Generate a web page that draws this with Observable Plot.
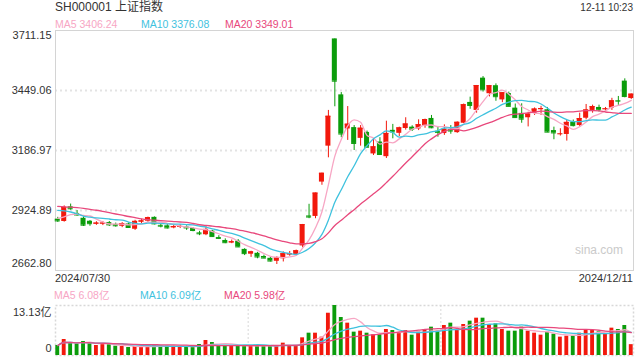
<!DOCTYPE html>
<html><head><meta charset="utf-8">
<script src="https://cdn.jsdelivr.net/npm/d3@7"></script>
<script src="https://cdn.jsdelivr.net/npm/@observablehq/plot@0.6"></script>
<style>
body{margin:0;background:#fff;}
#c{position:relative;width:640px;height:360px;font-family:"Liberation Sans",Arial,"Noto Sans CJK SC",sans-serif;color:#333;overflow:hidden;background:#fff}
.t{position:absolute;white-space:nowrap;line-height:14px}
#c svg{position:absolute;left:0}
</style></head><body><div id="c"></div>
<script>
// ---- data ----
const title = "SH000001 上证指数";
const stamp = "12-11 10:23";
const dates = ["2024/07/30","07-31","08-01","08-02","08-05","08-06","08-07","08-08","08-09","08-12","08-13","08-14","08-15","08-16","08-19","08-20","08-21","08-22","08-23","08-26","08-27","08-28","08-29","08-30","09-02","09-03","09-04","09-05","09-06","09-09","09-10","09-11","09-12","09-13","09-18","09-19","09-20","09-23","09-24","09-25","09-26","09-27","09-30","10-08","10-09","10-10","10-11","10-14","10-15","10-16","10-17","10-18","10-21","10-22","10-23","10-24","10-25","10-28","10-29","10-30","10-31","11-01","11-04","11-05","11-06","11-07","11-08","11-11","11-12","11-13","11-14","11-15","11-18","11-19","11-20","11-21","11-22","11-25","11-26","11-27","11-28","11-29","12-02","12-03","12-04","12-05","12-06","12-09","12-10","2024/12/11"];
const open  = [2887,2877,2941,2912,2891,2878,2865,2866,2872,2864,2856,2866,2843,2874,2878,2895,2860,2858,2849,2851,2853,2846,2827,2819,2835,2807,2794,2783,2791,2755,2734,2738,2724,2716,2703,2714,2730,2733,2770,2901,2899,3049,3206,3674.40,3430,3281,3287,3240,3266,3172,3224,3160,3275,3262,3283,3289,3281,3294,3327,3271,3261,3278,3265,3306,3397,3362,3503,3435,3470,3408,3436,3372,3349,3330,3349,3365,3365,3274,3258,3257,3311,3296,3328,3362,3375,3366,3372,3405,3490,3414];
const high  = [2895,2945,2953,2925,2897,2881,2876,2877,2877,2870,2872,2871,2882,2887,2896,2897,2866,2867,2861,2863,2858,2850,2834,2856,2838,2815,2801,2796,2798,2758,2747,2742,2730,2720,2723,2744,2746,2752,2864,2952,3001,3088,3362,3674.40,3440,3379,3296,3296,3272,3238,3243,3315,3301,3289,3330,3295,3321,3324,3340,3292,3299,3296,3312,3390,3420,3471,3510,3471,3478,3440,3442,3390,3391,3354,3373,3380,3375,3289,3282,3318,3320,3350,3388,3385,3385,3375,3415,3423,3500,3434];
const low   = [2873,2874,2926,2900,2855,2856,2860,2859,2855,2852,2850,2849,2838,2868,2873,2862,2849,2844,2845,2846,2838,2832,2815,2815,2808,2798,2780,2780,2763,2728,2720,2714,2714,2700,2689,2700,2725,2725,2762,2889,2889,3035,3155,3378,3243,3231,3187,3206,3199,3165,3165,3152,3238,3248,3276,3270,3274,3284,3282,3245,3253,3258,3262,3305,3367,3350,3442,3421,3402,3396,3378,3328,3306,3290,3340,3340,3265,3234,3250,3228,3290,3289,3321,3350,3355,3357,3362,3384,3417,3410];
const close = [2879.30,2938.75,2932.39,2905.34,2860.70,2867.28,2869.90,2869.83,2862.19,2858.20,2867.95,2850.65,2877.36,2879.43,2893.67,2866.66,2856.58,2848.77,2854.37,2855.52,2848.73,2837.43,2823.11,2842.21,2811.04,2802.98,2784.28,2788.22,2765.81,2736.49,2744.19,2721.80,2717.12,2704.09,2717.28,2736.02,2736.81,2748.92,2863.13,2896.31,3000.95,3087.53,3336.50,3489.78,3258.86,3301.93,3217.74,3284.32,3201.29,3202.95,3169.38,3261.56,3268.11,3285.87,3302.80,3280.26,3299.70,3322.20,3286.41,3266.24,3279.82,3272.01,3310.21,3386.99,3383.81,3470.66,3452.30,3470.07,3421.97,3439.28,3379.84,3330.73,3323.85,3346.01,3367.99,3370.40,3267.19,3263.76,3259.76,3309.78,3295.70,3326.46,3363.98,3378.81,3364.65,3368.86,3404.08,3402.53,3422.66,3433.07];
// closes of the 19 sessions before the first candle (feed the moving averages only)
const priorCloses = [2982.38,2957.57,2949.93,2922.45,2959.37,2939.36,2970.39,2971.30,2974.01,2976.30,2962.17,2977.13,2982.31,2964.22,2915.37,2901.95,2886.74,2890.90,2891.85];
// volume, 亿
const volume = [2.63,4.20,3.41,3.06,3.68,3.06,2.63,3.06,2.89,2.45,2.36,2.10,2.36,2.36,2.45,2.54,2.45,2.45,2.45,2.36,2.19,2.19,2.89,3.94,3.41,2.63,2.63,2.63,2.54,2.54,2.54,2.45,2.45,2.63,2.63,3.24,2.63,2.63,4.64,5.86,5.86,4.82,11.10,13.13,9.98,8.49,6.13,6.39,5.86,5.43,5.43,6.83,6.56,5.86,6.56,5.34,6.13,6.83,7.44,6.48,7.88,8.49,6.83,8.14,9.02,9.80,9.80,8.14,8.31,6.83,6.39,6.39,7.44,6.39,5.86,5.34,6.13,5.60,4.82,5.08,5.08,5.86,6.56,6.56,6.21,5.69,7.18,6.83,7.88,2.85];
const priceTicks = [3711.15,3449.06,3186.97,2924.89,2662.80];
const maPeriods = [5,10,20];
const maNames = ["MA5","MA10","MA20"];
const maColors = ["#f7a6c4","#3fc2de","#e8487c"];
const volLegend = ["6.08亿","6.09亿","5.98亿"];
const upColor = "#f2180c", downColor = "#0b9c0b";

// ---- derived ----
const n = close.length;
const rows = close.map((c,i)=>({i, open:open[i], high:high[i], low:low[i], close:c, vol:volume[i],
  col: c >= open[i] ? upColor : downColor}));
const allClose = priorCloses.concat(close);
const off = priorCloses.length;
const priceMA = maPeriods.map(p => close.map((_,i)=>d3.mean(allClose.slice(Math.max(0,i+off-p+1), i+off+1))));
const volMA = maPeriods.map(p => volume.map((_,i)=>d3.mean(volume.slice(Math.max(0,i-p+1), i+1))));
const maRows = (arr) => arr.flatMap((s,k)=>s.map((v,i)=>({i, v, col:maColors[k], key:maNames[k]})));
const xDomain = [-0.35, n - 0.65];
const font = '"Liberation Sans",Arial,"Noto Sans CJK SC",sans-serif';
const hw = 0.39, vw = 0.3;

const root = document.getElementById("c");
function txt(s, css){ const d=document.createElement("div"); d.className="t"; d.textContent=s; Object.assign(d.style, css); root.appendChild(d); return d; }

const price = Plot.plot({
  width:640, height:290, marginTop:30, marginBottom:20, marginLeft:55, marginRight:7,
  x:{domain:xDomain, axis:null},
  y:{domain:d3.extent(priceTicks), axis:null},
  color:{type:"identity"},
  style:{fontFamily:font, fontSize:"11px", color:"#333", background:"transparent", overflow:"visible"},
  marks:[
    Plot.ruleY(priceTicks.slice(1,-1), {stroke:"#e3e3e3", strokeWidth:2, strokeDasharray:"2,3"}),
    Plot.frame({stroke:"#d4d4d4"}),
    Plot.ruleX(rows, {x:"i", y1:"low", y2:"high", stroke:"col", strokeWidth:1}),
    Plot.rect(rows, {x1:d=>d.i-hw, x2:d=>d.i+hw, y1:"open", y2:"close", fill:"col"}),
    Plot.ruleY(rows, {x1:d=>d.i-hw, x2:d=>d.i+hw, y:"close", stroke:"col", strokeWidth:1}),
    Plot.line(maRows(priceMA), {x:"i", y:"v", z:"key", stroke:"col", strokeWidth:1.3, curve:"monotone-x"}),
    Plot.axisY(priceTicks.slice(0,1), {tickSize:0, tickPadding:4, dy:5, label:null, tickFormat:d3.format(".2f"), fill:"#333"}),
    Plot.axisY(priceTicks.slice(1,-1), {tickSize:0, tickPadding:4, dy:0, label:null, tickFormat:d3.format(".2f"), fill:"#333"}),
    Plot.axisY(priceTicks.slice(-1), {tickSize:0, tickPadding:4, dy:-7, label:null, tickFormat:d3.format(".2f"), fill:"#333"})
  ]
});
price.style.top = "0px";
root.appendChild(price);

const vmax = d3.max(volume);
const third = (xDomain[1]-xDomain[0])/3;
const vol = Plot.plot({
  width:640, height:60, marginTop:5, marginBottom:5, marginLeft:55, marginRight:7,
  x:{domain:xDomain, axis:null},
  y:{domain:[0, vmax], axis:null},
  color:{type:"identity"},
  style:{fontFamily:font, fontSize:"11px", color:"#333", background:"transparent", overflow:"visible"},
  marks:[
    Plot.frame({stroke:"#d8d8d8", strokeWidth:1.5, strokeDasharray:"2,2"}),
    Plot.ruleX([xDomain[0]+third, xDomain[0]+2*third], {stroke:"#d8d8d8", strokeDasharray:"2,2"}),
    Plot.rectY(rows, {x1:d=>d.i-vw, x2:d=>d.i+vw, y1:0, y2:"vol", fill:"col"}),
    Plot.line(maRows(volMA), {x:"i", y:"v", z:"key", stroke:"col", strokeWidth:1.3, curve:"monotone-x"}),
    Plot.axisY([vmax], {tickSize:0, tickPadding:4, dy:7, label:null, tickFormat:d=>d.toFixed(2)+"亿", fill:"#333"}),
    Plot.axisY([0], {tickSize:0, tickPadding:4, dy:-7, label:null, tickFormat:d=>"0", fill:"#333"})
  ]
});
vol.style.top = "300px";
root.appendChild(vol);

// header texts
txt(title, {left:"55px", top:"0px", fontSize:"12px", lineHeight:"15px"});
txt(stamp, {right:"7px", top:"0px", fontSize:"10px", lineHeight:"15px"});
const lastMA = priceMA.map(s=>s[n-1].toFixed(2));
const legX = [55, 141, 225];
maNames.forEach((m,k)=>txt(m+" "+lastMA[k], {left:legX[k]+"px", top:"17px", fontSize:"10.5px", color:maColors[k]}));
txt(dates[0], {left:"55px", top:"271px", fontSize:"11px"});
txt(dates[n-1], {right:"7px", top:"271px", fontSize:"11px"});
maNames.forEach((m,k)=>txt(m+" "+volLegend[k], {left:(legX[k]-1)+"px", top:"288px", fontSize:"10.5px", color:maColors[k]}));
txt("sina.com", {right:"17px", top:"243px", fontSize:"12px", color:"#cacaca"});
</script></body></html>
